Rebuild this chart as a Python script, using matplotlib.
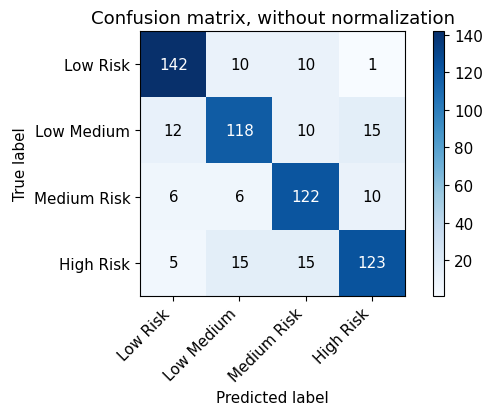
import numpy as np
import matplotlib
matplotlib.use('Agg')
import matplotlib.pyplot as plt

plt.rcParams['font.size'] = 10.9

classes = ['Low Risk', 'Low Medium', 'Medium Risk', 'High Risk']
cm = np.array([[142, 10, 10, 1],
               [12, 118, 10, 15],
               [6, 6, 122, 10],
               [5, 15, 15, 123]])

fig = plt.figure(figsize=(4.85, 4.1), dpi=100)
ax = fig.add_axes([0.289, 0.276, 0.546, 0.646])
cax = fig.add_axes([0.893, 0.276, 0.023, 0.646])

im = ax.imshow(cm, interpolation='nearest', cmap=plt.cm.Blues)
ax.set_title('Confusion matrix, without normalization')
fig.colorbar(im, cax=cax)

tick_marks = np.arange(len(classes))
ax.set_xticks(tick_marks)
ax.set_xticklabels(classes, rotation=45, ha='right', rotation_mode='default')
ax.set_yticks(tick_marks)
ax.set_yticklabels(classes)

thresh = cm.max() / 2.
for i in range(cm.shape[0]):
    for j in range(cm.shape[1]):
        ax.text(j, i, format(cm[i, j], 'd'),
                horizontalalignment='center', verticalalignment='center',
                color='white' if cm[i, j] > thresh else 'black')

ax.set_ylabel('True label')
ax.set_xlabel('Predicted label')
fig.savefig('out.png', dpi=100)
